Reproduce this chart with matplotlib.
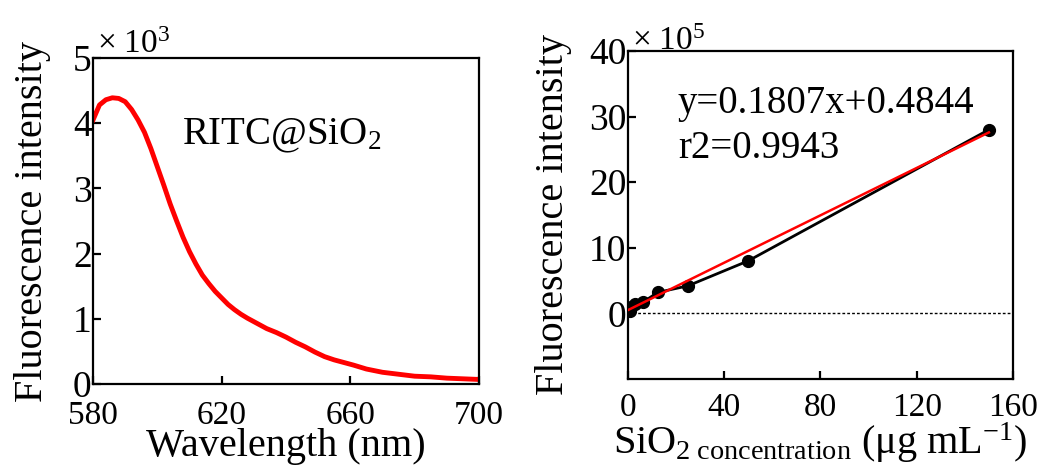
import matplotlib
matplotlib.use("Agg")
from matplotlib import pyplot as plt

plt.rcParams['font.family'] = ['Liberation Serif', 'DejaVu Serif']
plt.rcParams['mathtext.fontset'] = 'custom'
plt.rcParams['mathtext.rm'] = 'Liberation Serif'
plt.rcParams['mathtext.it'] = 'Liberation Serif:italic'

# spectrum (x10^3)
wavelength = [580, 582, 584, 586, 588, 590, 592, 594, 596, 598, 600, 602, 604, 606, 608,
              610, 612, 614, 616, 618, 620, 622, 624, 626, 628, 631, 634, 637, 640, 643,
              646, 649, 652, 655, 658, 661, 665, 670, 675, 680, 685, 690, 695, 700]
intensity = [4.05, 4.28, 4.36, 4.39, 4.38, 4.33, 4.21, 4.05, 3.86, 3.61, 3.33, 3.05, 2.76,
             2.50, 2.25, 2.03, 1.84, 1.67, 1.54, 1.42, 1.32, 1.22, 1.14, 1.07, 1.01, 0.93,
             0.85, 0.79, 0.72, 0.64, 0.57, 0.49, 0.42, 0.37, 0.33, 0.29, 0.23, 0.18, 0.15,
             0.12, 0.11, 0.09, 0.08, 0.07]

# calibration (x10^5)
conc = [0.78, 1.56, 3.125, 6.25, 12.5, 25, 50, 150]
fluo = [0.4, 1.0, 1.4, 1.7, 3.2, 4.2, 8.0, 28.0]
slope, intercept = 0.1807, 0.4844
fit_x = [0, 150]
fit_y = [slope * v + intercept for v in fit_x]

fig = plt.figure(figsize=(10.43, 4.72), dpi=100)
ax1 = fig.add_axes([0.0892, 0.1864, 0.370, 0.6907])
ax2 = fig.add_axes([0.6018, 0.197, 0.3694, 0.695])

for ax in (ax1, ax2):
    for s in ax.spines.values():
        s.set_linewidth(1.6)
    ax.tick_params(direction='in', length=6, width=1.6)
    ax.tick_params(axis='y', pad=1, labelsize=27)
    ax.tick_params(axis='x', pad=10, labelsize=24)
ax1.tick_params(axis='x', pad=12)

ax1.plot(wavelength, intensity, color='#ff0000', lw=3.5)
ax1.set_xlim(580, 700)
ax1.set_ylim(0, 5)
ax1.set_xticks([580, 620, 660, 700])
ax1.set_yticks([0, 1, 2, 3, 4, 5])
ax1.set_xlabel('Wavelength (nm)', fontsize=29, labelpad=-2)
ax1.set_ylabel('Fluorescence intensity', fontsize=29, labelpad=16)
ax1.text(0.01, 1.015, r'$\times\ 10^3$', transform=ax1.transAxes, fontsize=24, va='baseline')
ax1.text(0.23, 0.735, r'RITC@SiO$_2$', transform=ax1.transAxes, fontsize=28)

ax2.axhline(0, color='black', lw=1, ls=(0, (2, 1.5)))
ax2.plot(conc, fluo, color='black', lw=2, marker='o', markersize=8.5, zorder=3)
ax2.plot(fit_x, fit_y, color='#ff0000', lw=1.8, zorder=4)
ax2.set_xlim(0, 160)
ax2.set_ylim(-10, 40)
ax2.set_xticks([0, 40, 80, 120, 160])
ax2.set_yticks([0, 10, 20, 30, 40])
ax2.set_xlabel(r'SiO$_{2\ \mathrm{concentration}}$ (μg mL$^{-1}$)', fontsize=29, labelpad=-2)
ax2.set_ylabel('Fluorescence intensity', fontsize=29, labelpad=12)
ax2.text(0.01, 1.003, r'$\times\ 10^5$', transform=ax2.transAxes, fontsize=24, va='baseline')
ax2.text(0.13, 0.81, 'y=0.1807x+0.4844', transform=ax2.transAxes, fontsize=28)
ax2.text(0.13, 0.675, 'r2=0.9943', transform=ax2.transAxes, fontsize=28)

fig.savefig('out.png', dpi=100)
